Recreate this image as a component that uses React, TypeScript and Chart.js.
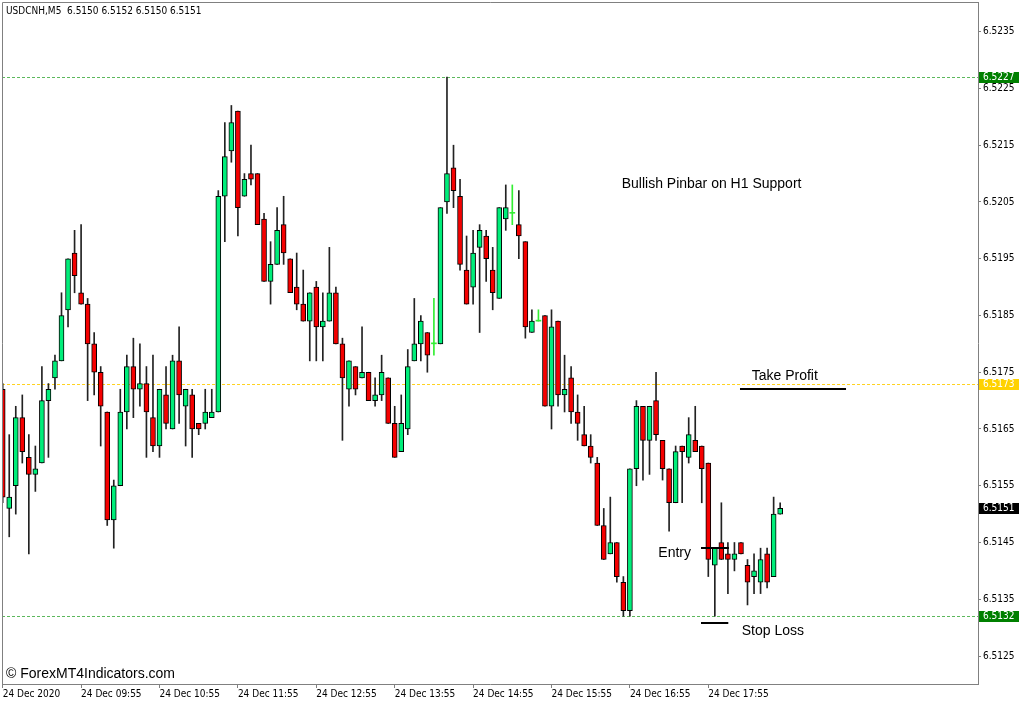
import React, { useEffect, useRef } from "react";
import { Chart, registerables } from "chart.js";

Chart.register(...registerables);

// ---------------- DATA ----------------
const symbol = "USDCNH";
const timeframe = "M5";

const opens = [
  6.5172, 6.5151, 6.5155, 6.5167, 6.5160, 6.5157, 6.5159, 6.5170, 6.5174, 6.5177,
  6.5186, 6.5196, 6.5189, 6.5187, 6.5180, 6.5175, 6.5168, 6.5149, 6.5155, 6.5168,
  6.5176, 6.5172, 6.5173, 6.5167, 6.5162, 6.5171, 6.5165, 6.5177, 6.5169, 6.5171,
  6.5166, 6.5166, 6.5167, 6.5168, 6.5206, 6.5214, 6.5221, 6.5206, 6.5210, 6.5210,
  6.5202, 6.5191, 6.5194, 6.5201, 6.5195, 6.5190, 6.5187, 6.5184, 6.5190, 6.5183,
  6.5184, 6.5189, 6.5180, 6.5172, 6.5176, 6.5174, 6.5175, 6.5170, 6.5171, 6.5174,
  6.5166, 6.5161, 6.5165, 6.5177, 6.5180, 6.5182, 6.5180, 6.5180, 6.5205, 6.5211,
  6.5206, 6.5193, 6.5190, 6.5197, 6.5199, 6.5193, 6.5188, 6.5202, 6.5203, 6.5201,
  6.5198, 6.5182, 6.5184, 6.5185, 6.5169, 6.5184, 6.5171, 6.5174, 6.5168, 6.5164,
  6.5162, 6.5159, 6.5148, 6.5143, 6.5145, 6.5138, 6.5133, 6.5158, 6.5169, 6.5163,
  6.5170, 6.5163, 6.5158, 6.5152, 6.5162, 6.5160, 6.5163, 6.5162, 6.5159, 6.5141,
  6.5145, 6.5143, 6.5142, 6.5145, 6.5141, 6.5139, 6.5138, 6.5143, 6.5139, 6.5150,
];
const highs = [
  6.5173, 6.5164, 6.5169, 6.5171, 6.5164, 6.5162, 6.5176, 6.5173, 6.5178, 6.5189,
  6.5195, 6.5200, 6.5201, 6.5188, 6.5182, 6.5176, 6.5168, 6.5156, 6.5172, 6.5178,
  6.5181, 6.5180, 6.5176, 6.5178, 6.5172, 6.5176, 6.5178, 6.5183, 6.5172, 6.5172,
  6.5166, 6.5172, 6.5172, 6.5207, 6.5219, 6.5222, 6.5221, 6.5210, 6.5215, 6.5210,
  6.5203, 6.5198, 6.5204, 6.5206, 6.5195, 6.5196, 6.5193, 6.5189, 6.5191, 6.5189,
  6.5197, 6.5190, 6.5181, 6.5177, 6.5176, 6.5183, 6.5175, 6.5174, 6.5178, 6.5174,
  6.5169, 6.5171, 6.5179, 6.5188, 6.5185, 6.5182, 6.5188, 6.5204, 6.5227, 6.5215,
  6.5209, 6.5199, 6.5200, 6.5201, 6.5200, 6.5197, 6.5204, 6.5208, 6.5208, 6.5207,
  6.5198, 6.5186, 6.5186, 6.5185, 6.5186, 6.5184, 6.5178, 6.5176, 6.5171, 6.5169,
  6.5164, 6.5160, 6.5151, 6.5153, 6.5145, 6.5139, 6.5158, 6.5170, 6.5169, 6.5169,
  6.5175, 6.5163, 6.5158, 6.5162, 6.5162, 6.5167, 6.5169, 6.5162, 6.5159, 6.5144,
  6.5152, 6.5145, 6.5145, 6.5145, 6.5142, 6.5143, 6.5144, 6.5144, 6.5153, 6.5152,
];
const lows = [
  6.5152, 6.5146, 6.5150, 6.5159, 6.5143, 6.5154, 6.5159, 6.5160, 6.5172, 6.5177,
  6.5183, 6.5189, 6.5187, 6.5170, 6.5171, 6.5162, 6.5148, 6.5144, 6.5155, 6.5165,
  6.5167, 6.5169, 6.5160, 6.5161, 6.5160, 6.5165, 6.5165, 6.5166, 6.5162, 6.5160,
  6.5164, 6.5165, 6.5167, 6.5168, 6.5198, 6.5212, 6.5199, 6.5206, 6.5208, 6.5201,
  6.5191, 6.5187, 6.5194, 6.5194, 6.5189, 6.5186, 6.5184, 6.5177, 6.5177, 6.5177,
  6.5184, 6.5180, 6.5163, 6.5169, 6.5171, 6.5174, 6.5170, 6.5169, 6.5170, 6.5166,
  6.5160, 6.5161, 6.5164, 6.5177, 6.5177, 6.5175, 6.5178, 6.5180, 6.5203, 6.5204,
  6.5193, 6.5187, 6.5187, 6.5182, 6.5191, 6.5186, 6.5188, 6.5200, 6.5201, 6.5195,
  6.5181, 6.5182, 6.5184, 6.5169, 6.5165, 6.5169, 6.5168, 6.5166, 6.5163, 6.5162,
  6.5159, 6.5148, 6.5142, 6.5143, 6.5138, 6.5132, 6.5132, 6.5155, 6.5156, 6.5157,
  6.5163, 6.5156, 6.5147, 6.5152, 6.5152, 6.5159, 6.5161, 6.5152, 6.5139, 6.5132,
  6.5142, 6.5136, 6.5140, 6.5143, 6.5134, 6.5136, 6.5136, 6.5137, 6.5139, 6.5150,
];
const closes = [
  6.5153, 6.5153, 6.5167, 6.5161, 6.5157, 6.5158, 6.5170, 6.5172, 6.5177, 6.5185,
  6.5195, 6.5192, 6.5187, 6.5180, 6.5175, 6.5169, 6.5149, 6.5155, 6.5168, 6.5176,
  6.5172, 6.5173, 6.5168, 6.5162, 6.5172, 6.5166, 6.5177, 6.5171, 6.5172, 6.5165,
  6.5165, 6.5168, 6.5168, 6.5206, 6.5213, 6.5219, 6.5204, 6.5209, 6.5209, 6.5201,
  6.5191, 6.5194, 6.5200, 6.5196, 6.5189, 6.5187, 6.5184, 6.5189, 6.5183, 6.5184,
  6.5189, 6.5180, 6.5174, 6.5177, 6.5172, 6.5175, 6.5170, 6.5171, 6.5175, 6.5166,
  6.5160, 6.5166, 6.5176, 6.5180, 6.5184, 6.5178, 6.5180, 6.5204, 6.5210, 6.5207,
  6.5194, 6.5187, 6.5196, 6.5200, 6.5195, 6.5189, 6.5204, 6.5204, 6.5203, 6.5199,
  6.5183, 6.5184, 6.5184, 6.5169, 6.5183, 6.5171, 6.5172, 6.5168, 6.5166, 6.5162,
  6.5160, 6.5148, 6.5142, 6.5145, 6.5139, 6.5133, 6.5158, 6.5169, 6.5163, 6.5169,
  6.5164, 6.5158, 6.5152, 6.5161, 6.5161, 6.5164, 6.5161, 6.5158, 6.5142, 6.5144,
  6.5142, 6.5142, 6.5143, 6.5143, 6.5138, 6.5140, 6.5142, 6.5138, 6.5150, 6.5151,
];

const xTickBars = [0, 12, 24, 36, 48, 60, 72, 84, 96, 108];
const xTickLabels = [
  "24 Dec 2020", "24 Dec 09:55", "24 Dec 10:55", "24 Dec 11:55", "24 Dec 12:55",
  "24 Dec 13:55", "24 Dec 14:55", "24 Dec 15:55", "24 Dec 16:55", "24 Dec 17:55",
];
const yTicks = [
  6.5125, 6.5135, 6.5145, 6.5155, 6.5165, 6.5175,
  6.5185, 6.5195, 6.5205, 6.5215, 6.5225, 6.5235,
];

const levelPrices = [6.5227, 6.5173, 6.5132];

const annotationTexts = ["Bullish Pinbar on H1 Support", "Take Profit", "Entry", "Stop Loss"];
const watermarkText = "© ForexMT4Indicators.com";

// ---------------- STYLE / PLACEMENT ----------------
const AXIS_FONT = "'DejaVu Sans Condensed', 'Liberation Sans', sans-serif";
const TEXT_FONT = "'Liberation Sans', Arial, sans-serif";
const BULL = "#00EE7A";
const BEAR = "#F50000";
const DOJI = "#33EE33";
const WICK = "#222222";
const FRAME = "#808080";
const levelLineColors = ["#5CB85C", "#FFD21F", "#5CB85C"];
const levelBoxColors = ["#008000", "#FFD200", "#008000"];

// anchors of the drawn objects in (bar, price) space
const annotationAnchors = [
  { bar: 94.74, price: 6.52075 },
  { bar: 114.64, price: 6.51737 },
  { bar: 100.35, price: 6.51425 },
  { bar: 113.11, price: 6.51287 },
];
const segmentAnchors = [
  { from: 112.85, to: 129.08, price: 6.5172 },
  { from: 106.88, to: 111.15, price: 6.5144 },
  { from: 106.88, to: 111.06, price: 6.51308 },
];

const overlayPlugin = {
  id: "mt4Overlay",
  beforeDatasetsDraw(chart: any) {
    const { ctx, chartArea, scales } = chart;
    const y = scales.y;
    ctx.save();
    ctx.lineWidth = 1;
    ctx.setLineDash([3, 2]);
    levelPrices.forEach((p, i) => {
      const py = Math.round(y.getPixelForValue(p)) + 0.5;
      ctx.strokeStyle = levelLineColors[i];
      ctx.beginPath();
      ctx.moveTo(chartArea.left, py);
      ctx.lineTo(chartArea.right, py);
      ctx.stroke();
    });
    ctx.restore();
  },
  afterDraw(chart: any) {
    const { ctx, chartArea, scales } = chart;
    const x = scales.x;
    const y = scales.y;
    ctx.save();

    // frame
    ctx.strokeStyle = FRAME;
    ctx.lineWidth = 1;
    ctx.setLineDash([]);
    ctx.beginPath();
    ctx.moveTo(chartArea.left + 0.5, chartArea.bottom);
    ctx.lineTo(chartArea.left + 0.5, chartArea.top + 0.5);
    ctx.lineTo(chartArea.right, chartArea.top + 0.5);
    ctx.stroke();

    // header
    const n = closes.length - 1;
    ctx.fillStyle = "#000";
    ctx.font = `10px ${AXIS_FONT}`;
    ctx.textAlign = "left";
    ctx.textBaseline = "alphabetic";
    ctx.fillText(
      `${symbol},${timeframe}  ${opens[n].toFixed(4)} ${highs[n].toFixed(4)} ${lows[n].toFixed(4)} ${closes[n].toFixed(4)}`,
      chartArea.left + 4,
      chartArea.top + 12
    );

    // text objects
    ctx.font = `14px ${TEXT_FONT}`;
    annotationTexts.forEach((t, i) => {
      const a = annotationAnchors[i];
      ctx.fillText(t, x.getPixelForValue(a.bar), y.getPixelForValue(a.price));
    });

    // segment objects
    ctx.strokeStyle = "#000";
    ctx.lineWidth = 2;
    segmentAnchors.forEach((s) => {
      const py = Math.round(y.getPixelForValue(s.price));
      ctx.beginPath();
      ctx.moveTo(x.getPixelForValue(s.from), py);
      ctx.lineTo(x.getPixelForValue(s.to), py);
      ctx.stroke();
    });

    // watermark
    ctx.font = `14px ${TEXT_FONT}`;
    ctx.fillText(watermarkText, chartArea.left + 4, chartArea.bottom - 6);

    // price boxes on the axis
    ctx.font = `10px ${AXIS_FONT}`;
    ctx.textBaseline = "middle";
    const drawBox = (p: number, bg: string) => {
      const py = Math.round(y.getPixelForValue(p));
      ctx.fillStyle = bg;
      ctx.fillRect(chartArea.right + 1, py - 5, 40, 11);
      ctx.fillStyle = "#fff";
      ctx.fillText(p.toFixed(4), chartArea.right + 5, py + 0.5);
    };
    levelPrices.forEach((p, i) => drawBox(p, levelBoxColors[i]));
    drawBox(closes[n], "#000");

    ctx.restore();
  },
};

function buildConfig(): any {
  const wickColors = opens.map((o, i) => (o === closes[i] ? DOJI : WICK));
  const bodyColors = opens.map((o, i) => (closes[i] > o ? BULL : closes[i] < o ? BEAR : DOJI));
  const bodyBorderWidths = opens.map((o, i) => (o === closes[i] ? 0 : 1));

  return {
    type: "bar",
    data: {
      datasets: [
        {
          label: "wicks",
          data: opens.map((_, i) => ({ x: i, y: [lows[i], highs[i]] })),
          backgroundColor: wickColors,
          borderWidth: 0,
          barThickness: 1,
          grouped: false,
          order: 2,
        },
        {
          label: "bodies",
          data: opens.map((o, i) => ({ x: i, y: [o, closes[i]] })),
          backgroundColor: bodyColors,
          borderColor: "#000",
          borderWidth: bodyBorderWidths,
          borderSkipped: false,
          barThickness: 5,
          minBarLength: 1,
          grouped: false,
          order: 1,
        },
      ],
    },
    options: {
      animation: false,
      responsive: false,
      devicePixelRatio: 1,
      events: [],
      layout: { padding: { left: 2, top: 2, right: 0, bottom: 0 } },
      plugins: { legend: { display: false }, tooltip: { enabled: false } },
      scales: {
        x: {
          type: "linear",
          min: -0.107,
          max: 149.28,
          offset: false,
          afterBuildTicks: (s: any) => {
            s.ticks = xTickBars.map((v) => ({ value: v }));
          },
          afterFit: (s: any) => {
            s.height = 20;
            s.paddingLeft = 0;
            s.paddingRight = 0;
          },
          grid: { drawOnChartArea: false, drawTicks: true, tickLength: 4, color: FRAME, offset: false },
          border: { display: true, color: FRAME },
          ticks: {
            autoSkip: false,
            maxRotation: 0,
            minRotation: 0,
            align: "start",
            padding: 0,
            color: "#000",
            font: { family: AXIS_FONT, size: 10 },
            callback: (_v: any, i: number) => xTickLabels[i],
          },
        },
        y: {
          type: "linear",
          position: "right",
          min: 6.512007,
          max: 6.524023,
          beginAtZero: false,
          afterBuildTicks: (s: any) => {
            s.ticks = yTicks.map((v) => ({ value: v }));
          },
          afterFit: (s: any) => {
            s.width = 46;
            s.paddingTop = 0;
            s.paddingBottom = 0;
          },
          grid: { drawOnChartArea: false, drawTicks: true, tickLength: 3, color: FRAME },
          border: { display: true, color: FRAME },
          ticks: {
            padding: 2,
            color: "#000",
            font: { family: AXIS_FONT, size: 10 },
            callback: (v: any) => Number(v).toFixed(4),
          },
        },
      },
    },
    plugins: [overlayPlugin],
  };
}

export default function App() {
  const ref = useRef<HTMLCanvasElement>(null);
  useEffect(() => {
    const chart = new Chart(ref.current as HTMLCanvasElement, buildConfig());
    return () => chart.destroy();
  }, []);
  return (
    <div style={{ position: "fixed", left: 0, top: 0, width: 1024, height: 704, background: "#fff" }}>
      <canvas ref={ref} width={1024} height={704} style={{ display: "block", width: 1024, height: 704 }} />
    </div>
  );
}
